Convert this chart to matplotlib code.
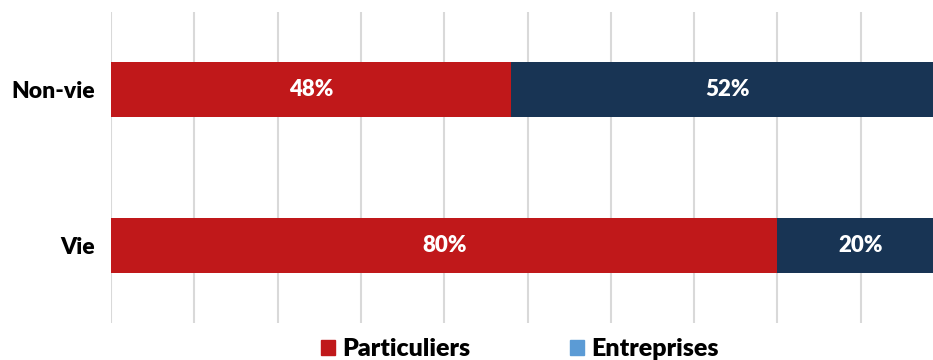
import matplotlib
matplotlib.use("Agg")
import matplotlib.pyplot as plt
from matplotlib.patches import Patch

plt.rcParams['font.family'] = ['Lato', 'DejaVu Sans']

categories = ["Vie", "Non-vie"]
particuliers = [80, 48]
entreprises = [20, 52]
series_names = ["Particuliers", "Entreprises"]

red = "#C0181A"
navy = "#183454"
legend_blue = "#5B9BD5"

fig = plt.figure(figsize=(9.33, 3.6), dpi=100)
ax = fig.add_axes([111 / 933, 1 - 323 / 360, (944 - 111) / 933, 311 / 360])

ypos = list(range(len(categories)))
h = 0.355
ax.barh(ypos, particuliers, height=h, color=red, zorder=3)
ax.barh(ypos, entreprises, left=particuliers, height=h, color=navy, zorder=3)

for y, p, e in zip(ypos, particuliers, entreprises):
    ax.text(p / 2, y, f"{p}%", ha="center", va="center", color="white",
            fontsize=16, fontweight="heavy", zorder=4)
    ax.text(p + e / 2, y, f"{e}%", ha="center", va="center", color="white",
            fontsize=16, fontweight="heavy", zorder=4)

ax.set_xlim(0, 100)
ax.set_ylim(-0.5, 1.5)
ax.set_xticks(range(0, 101, 10))
ax.xaxis.grid(True, color="#D9D9D9", linewidth=1.5, zorder=0)
ax.tick_params(axis="x", bottom=False, labelbottom=False)
ax.tick_params(axis="y", left=False, pad=8)
ax.set_yticks(ypos)
ax.set_yticklabels(categories, fontsize=16.5, fontweight="heavy")
for s in ax.spines.values():
    s.set_visible(False)

handles = [Patch(color=red), Patch(color=legend_blue)]
fig.legend(handles, series_names, loc="center", bbox_to_anchor=(520 / 933, 11 / 360),
           ncol=2, frameon=False, prop={"size": 18, "weight": "heavy"},
           handlelength=0.55, handleheight=0.55, handletextpad=0.3, columnspacing=4.0)

fig.savefig("out.png", dpi=100)
